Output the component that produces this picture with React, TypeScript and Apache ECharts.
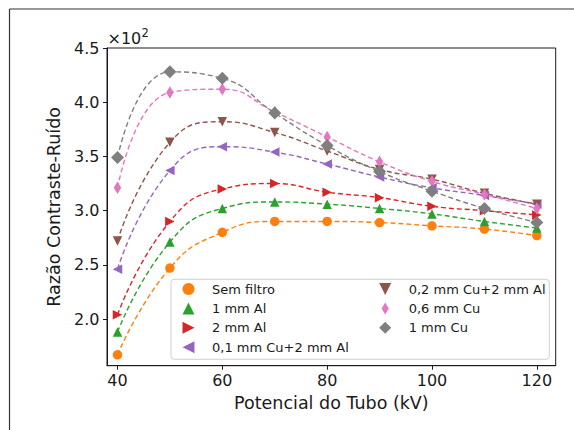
import React, { useEffect, useRef } from "react";
import * as echarts from "echarts";

// Tube potential (kV) sampled for every filter
const potencial = [40, 50, 60, 70, 80, 90, 100, 110, 120];

// Contrast-to-noise ratio per filter (raw values; axis shows them in units of 10^2)
const semFiltro = [167, 247, 280, 290, 290, 289, 286, 283, 277];
const al1mm = [188, 271, 302, 308, 306, 302, 297, 290, 284];
const al2mm = [204, 290, 320, 325, 317, 312, 304, 300, 296];
const cu01Al2 = [246, 337, 359, 354, 343, 331, 321, 314, 306];
const cu02Al2 = [272, 363, 382, 372, 355, 338, 329, 316, 306];
const cu06 = [321, 409, 412, 391, 368, 345, 327, 315, 302];
const cu1 = [349, 428, 422, 390, 360, 336, 318, 302, 289];

const xTicks = [40, 60, 80, 100, 120];
const yTicks = [200, 250, 300, 350, 400, 450];

const names = [
  "Sem filtro",
  "1 mm Al",
  "2 mm Al",
  "0,1 mm Cu+2 mm Al",
  "0,2 mm Cu+2 mm Al",
  "0,6 mm Cu",
  "1 mm Cu",
];
const values = [semFiltro, al1mm, al2mm, cu01Al2, cu02Al2, cu06, cu1];
const colors = ["#ff7f0e", "#2ca02c", "#d62728", "#9467bd", "#8c564b", "#e377c2", "#7f7f7f"];

// marker shapes: circle, triangles (up/right/left/down), diamond, thin diamond
const symbols = [
  "circle",
  "path://M5,0L10,10L0,10Z",
  "path://M0,0L10,5L0,10Z",
  "path://M10,0L10,10L0,5Z",
  "path://M0,0L10,0L5,10Z",
  "path://M3,0L6,5L3,10L0,5Z",
  "path://M5,0L10,5L5,10L0,5Z",
];
const symbolSizes: (number | number[])[] = [9.5, 9.5, 9.5, 9.5, 9.5, [7.5, 12.5], 13];

const FONT = "DejaVu Sans";
const INK = "#1a1a1a";

export default function App() {
  const ref = useRef<HTMLDivElement>(null);

  useEffect(() => {
    if (!ref.current) return;
    const chart = echarts.init(ref.current, undefined, { renderer: "svg" });

    const series: any[] = [];
    values.forEach((vals, i) => {
      const pts = potencial.map((x, k) => [x, vals[k]]);
      series.push({
        name: names[i] + " (ajuste)",
        type: "line",
        data: pts,
        smooth: 0.5,
        showSymbol: false,
        silent: true,
        lineStyle: { color: colors[i], width: 1.4, type: [5, 3] },
        z: 2,
      });
      series.push({
        name: names[i],
        type: "scatter",
        data: pts,
        symbol: symbols[i],
        symbolSize: symbolSizes[i],
        itemStyle: { color: colors[i], opacity: 1 },
        z: 3,
      });
    });

    // Legend items are laid out by their drawn bounds, so the offsets below
    // account for the empty space left of each 12px icon inside the 37px slot.
    const legendBase = {
      orient: "vertical",
      top: 282.5,
      itemWidth: 37,
      itemHeight: 12,
      itemGap: 6.4,
      padding: 0,
      selectedMode: false,
      textStyle: { fontSize: 13, color: INK, fontFamily: FONT },
      z: 5,
    };

    chart.setOption({
      animation: false,
      backgroundColor: "#ffffff",
      textStyle: { fontFamily: FONT },
      grid: {
        left: 107,
        right: 18.3,
        top: 48,
        bottom: 64.3,
        show: true,
        borderColor: INK,
        borderWidth: 1,
        outerBoundsMode: "none",
        containLabel: false,
      },
      xAxis: {
        type: "value",
        min: 38,
        max: 123.6,
        name: "Potencial do Tubo (kV)",
        nameLocation: "middle",
        nameGap: 27,
        nameTextStyle: { fontSize: 17.5, color: INK, fontFamily: FONT },
        axisLine: { show: true, lineStyle: { color: INK, width: 1 } },
        axisTick: { show: true, length: 4, customValues: xTicks, lineStyle: { color: INK } },
        axisLabel: { customValues: xTicks, fontSize: 16, color: INK, margin: 7, fontFamily: FONT },
        splitLine: { show: false },
      },
      yAxis: {
        type: "value",
        min: 157,
        max: 450,
        name: "Razão Contraste-Ruído",
        nameLocation: "middle",
        nameGap: 41,
        nameTextStyle: { fontSize: 17.5, color: INK, fontFamily: FONT },
        axisLine: { show: true, lineStyle: { color: INK, width: 1 } },
        axisTick: { show: true, length: 4, customValues: yTicks, lineStyle: { color: INK } },
        axisLabel: {
          customValues: yTicks,
          fontSize: 16,
          color: INK,
          margin: 7.5,
          fontFamily: FONT,
          formatter: (v: number) => (v / 100).toFixed(1),
        },
        splitLine: { show: false },
      },
      legend: [
        { ...legendBase, left: 182.5, data: names.slice(0, 4) },
        { ...legendBase, left: 379.2, data: names.slice(4) },
      ],
      graphic: [
        // outer frame (top and left edges)
        {
          type: "line",
          shape: { x1: 9.5, y1: 9, x2: 574, y2: 9 },
          style: { stroke: "#333333", lineWidth: 1.2 },
          z: 10,
        },
        {
          type: "line",
          shape: { x1: 9.5, y1: 9, x2: 9.5, y2: 430 },
          style: { stroke: "#333333", lineWidth: 1.2 },
          z: 10,
        },
        // legend frame
        {
          type: "rect",
          shape: { x: 171, y: 279.3, width: 378.3, height: 80, r: 3 },
          style: { fill: "rgba(255,255,255,0.85)", stroke: "#d0d0d0", lineWidth: 1 },
          z: 4,
        },
        // axis multiplier
        {
          type: "text",
          x: 107.5,
          y: 38,
          style: {
            text: "×10",
            fontSize: 16,
            fontFamily: FONT,
            fill: INK,
            verticalAlign: "middle",
          },
          z: 10,
        },
        {
          type: "text",
          x: 141.5,
          y: 32.5,
          style: {
            text: "2",
            fontSize: 11.5,
            fontFamily: FONT,
            fill: INK,
            verticalAlign: "middle",
          },
          z: 10,
        },
      ],
      series,
    });

    return () => chart.dispose();
  }, []);

  return (
    <div
      ref={ref}
      style={{ position: "absolute", left: 0, top: 0, width: 574, height: 430 }}
    />
  );
}
